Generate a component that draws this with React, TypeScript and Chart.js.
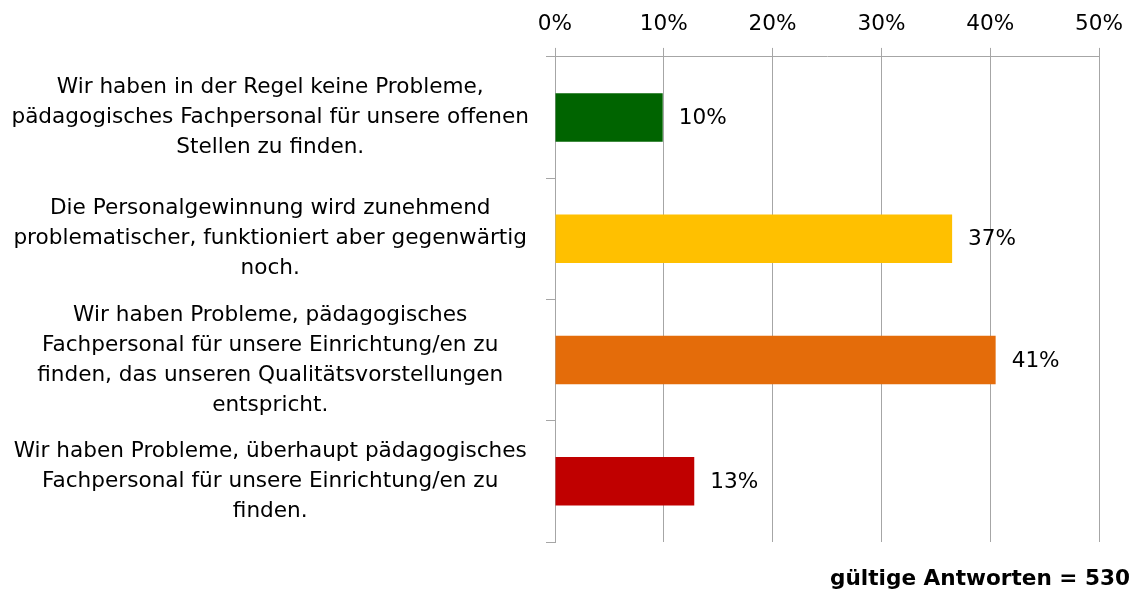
import React, { useEffect, useRef } from "react";
import { Chart, registerables } from "chart.js";

Chart.register(...registerables);

const categories: string[][] = [
  ["Wir haben in der Regel keine Probleme,", "pädagogisches Fachpersonal für unsere offenen", "Stellen zu finden."],
  ["Die Personalgewinnung wird zunehmend", "problematischer, funktioniert aber gegenwärtig", "noch."],
  ["Wir haben Probleme, pädagogisches", "Fachpersonal für unsere Einrichtung/en zu", "finden, das unseren Qualitätsvorstellungen", "entspricht."],
  ["Wir haben Probleme, überhaupt pädagogisches", "Fachpersonal für unsere Einrichtung/en zu", "finden."],
];
const values: number[] = [9.9, 36.5, 40.5, 12.8];
const barColors: string[] = ["#006400", "#FFC000", "#E46C0A", "#C00000"];
const xTicks: number[] = [0, 10, 20, 30, 40, 50];
const footnote = "gültige Antworten = 530";

const FONT = "'DejaVu Sans', Tahoma, sans-serif";
const FS = 21.6;

const valueLabels = {
  id: "valueLabels",
  afterDatasetsDraw(chart: any) {
    const { ctx } = chart;
    const meta = chart.getDatasetMeta(0);
    ctx.save();
    ctx.font = `${FS}px ${FONT}`;
    ctx.fillStyle = "#000";
    ctx.textAlign = "left";
    ctx.textBaseline = "middle";
    meta.data.forEach((bar: any, i: number) => {
      ctx.fillText(Math.round(values[i]) + "%", bar.x + 16, bar.y + 1);
    });
    ctx.restore();
  },
};

const footnotePlugin = {
  id: "footnote",
  afterDraw(chart: any) {
    const { ctx } = chart;
    ctx.save();
    ctx.font = `bold ${FS}px ${FONT}`;
    ctx.fillStyle = "#000";
    ctx.textAlign = "right";
    ctx.textBaseline = "middle";
    ctx.fillText(footnote, chart.width - 4, 579);
    ctx.restore();
  },
};

export default function App() {
  const ref = useRef<HTMLCanvasElement | null>(null);
  useEffect(() => {
    if (!ref.current) return;
    const chart = new Chart(ref.current, {
      type: "bar",
      data: {
        labels: categories,
        datasets: [
          {
            data: values,
            backgroundColor: barColors,
            barPercentage: 0.4,
            categoryPercentage: 1,
          },
        ],
      },
      options: {
        indexAxis: "y",
        animation: false,
        responsive: false,
        layout: { padding: { left: 6, right: 30, top: 0, bottom: 51 } },
        plugins: {
          legend: { display: false },
          tooltip: { enabled: false },
        },
        scales: {
          x: {
            position: "top",
            min: 0,
            max: 50,
            afterBuildTicks: (axis: any) => {
              axis.ticks = xTicks.map((v) => ({ value: v }));
            },
            ticks: {
              callback: (v: any) => v + "%",
              color: "#000",
              font: { family: FONT, size: FS, lineHeight: 1.2 },
              padding: 11,
            },
            grid: { color: "#a6a6a6", tickLength: 9, lineWidth: 1 },
            border: { color: "#a6a6a6" },
          },
          y: {
            afterFit: (scale: any) => {
              scale.paddingTop = 0;
              scale.paddingBottom = 0;
            },
            ticks: {
              autoSkip: false,
              crossAlign: "center",
              color: "#000",
              font: { family: FONT, size: FS, lineHeight: 30 / FS },
              padding: 17,
            },
            grid: { offset: true, drawOnChartArea: false, color: "#a6a6a6", tickLength: 9 },
            border: { color: "#a6a6a6" },
          },
        },
      },
      plugins: [valueLabels, footnotePlugin],
    });
    return () => chart.destroy();
  }, []);
  return (
    <div style={{ position: "fixed", left: 0, top: 0, width: 1134, height: 593, background: "#fff" }}>
      <canvas ref={ref} width={1134} height={593} style={{ width: 1134, height: 593 }} />
    </div>
  );
}
